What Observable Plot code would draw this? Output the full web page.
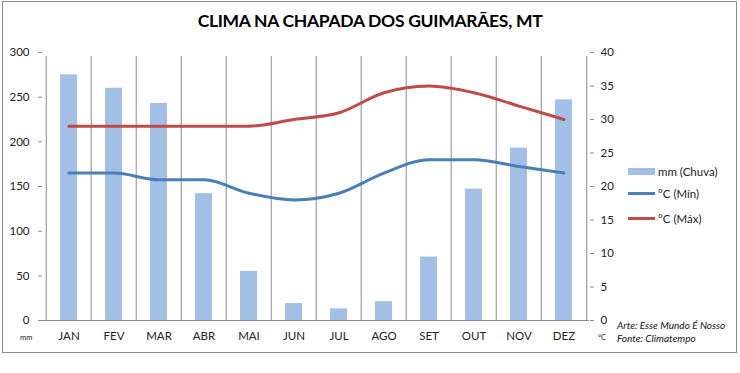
<!DOCTYPE html>
<html>
<head>
<meta charset="utf-8">
<script src="https://cdn.jsdelivr.net/npm/d3@7"></script>
<script src="https://cdn.jsdelivr.net/npm/@observablehq/plot@0.6"></script>
<style>
  body { margin: 0; background: #fff; font-family: Lato, "Open Sans", sans-serif; }
  #wrap { position: relative; width: 740px; height: 373px; overflow: hidden; }
  #frame { position: absolute; left: 2px; top: 1px; width: 733px; height: 350px; border: 1px solid #8c8c8c; }
  #title { position: absolute; left: 0; width: 740px; top: 10px; text-align: center; font-weight: bold; font-size: 17.5px; color: #000; letter-spacing: -0.3px; }
  #chart { position: absolute; left: 0; top: 0; }
  .leg { position: absolute; left: 628px; font-size: 11.5px; color: #222; display: flex; align-items: center; height: 14px; }
  .sw { width: 27px; margin-right: 3px; }
  .cap { position: absolute; left: 617px; font-size: 10px; font-style: italic; color: #111; }
  .unit { position: absolute; font-size: 7.5px; color: #222; }
</style>
</head>
<body>
<div id="wrap">
  <div id="frame"></div>
  <div id="title">CLIMA NA CHAPADA DOS GUIMARÃES, MT</div>
  <div id="chart"></div>
  <div class="leg" style="top:164px"><div class="sw" style="height:7px;background:#a2c0e6"></div>mm (Chuva)</div>
  <div class="leg" style="top:186px"><div class="sw" style="height:3px;background:#4a7ebb"></div>°C (Mín)</div>
  <div class="leg" style="top:211px"><div class="sw" style="height:3px;background:#be4b48"></div>°C (Máx)</div>
  <div class="cap" style="top:319px">Arte: Esse Mundo É Nosso</div>
  <div class="cap" style="top:332px">Fonte: Climatempo</div>
  <div class="unit" style="left:20px;top:333px">mm</div>
  <div class="unit" style="left:598px;top:333px">°C</div>
</div>
<script>
const months = ["JAN","FEV","MAR","ABR","MAI","JUN","JUL","AGO","SET","OUT","NOV","DEZ"];
const rain = [275, 260, 243, 142, 55, 19, 13, 21, 71, 147, 193, 247];
const tMin = [22, 22, 21, 21, 19, 18, 19, 22, 24, 24, 23, 22];
const tMax = [29, 29, 29, 29, 29, 30, 31, 34, 35, 34, 32, 30];
const rainTicks = [0, 50, 100, 150, 200, 250, 300];
const tempTicks = [0, 5, 10, 15, 20, 25, 30, 35, 40];

const mLeft = 42, mRight = 151, W = 740;
const bw = (W - mLeft - mRight) / months.length;
const k = 300 / 40; // °C -> mm axis factor

const rows = months.map((m, i) => ({m, rain: rain[i], tmin: tMin[i] * k, tmax: tMax[i] * k}));
const grid = "#8c8c8c";

const chart = Plot.plot({
  width: W, height: 373,
  marginLeft: mLeft, marginRight: mRight, marginTop: 52, marginBottom: 53,
  style: {fontFamily: "Lato, 'Open Sans', sans-serif", fontSize: "11.5px", color: "#222", background: "transparent"},
  x: {type: "band", domain: months, padding: 0, axis: null},
  y: {domain: [0, 300], axis: null},
  marks: [
    Plot.ruleX(months, {x: d => d, dx: -bw / 2, y1: 0, y2: 300, insetBottom: -4, stroke: grid}),
    Plot.ruleX(["DEZ"], {x: d => d, dx: bw / 2, y1: 0, y2: 300, insetBottom: -4, stroke: grid}),
    Plot.ruleY([0], {stroke: grid}),
    Plot.barY(rows, {x: "m", y: "rain", fill: "#a2c0e6", insetLeft: 14, insetRight: 14}),
    Plot.lineY(rows, {x: "m", y: "tmin", stroke: "#4a7ebb", strokeWidth: 3, curve: "monotone-x"}),
    Plot.lineY(rows, {x: "m", y: "tmax", stroke: "#be4b48", strokeWidth: 3, curve: "monotone-x"}),
    Plot.axisY(rainTicks, {anchor: "left", tickSize: 4, tickPadding: 9, stroke: grid, fill: "#222", label: null}),
    Plot.axisY(tempTicks.map(t => t * k), {anchor: "right", tickSize: 4, tickPadding: 7, tickFormat: d => d / k, stroke: grid, fill: "#222", label: null}),
    Plot.axisX(months, {anchor: "bottom", tickSize: 0, tickPadding: 11, fill: "#222", label: null})
  ]
});
document.getElementById("chart").appendChild(chart);
</script>
</body>
</html>
